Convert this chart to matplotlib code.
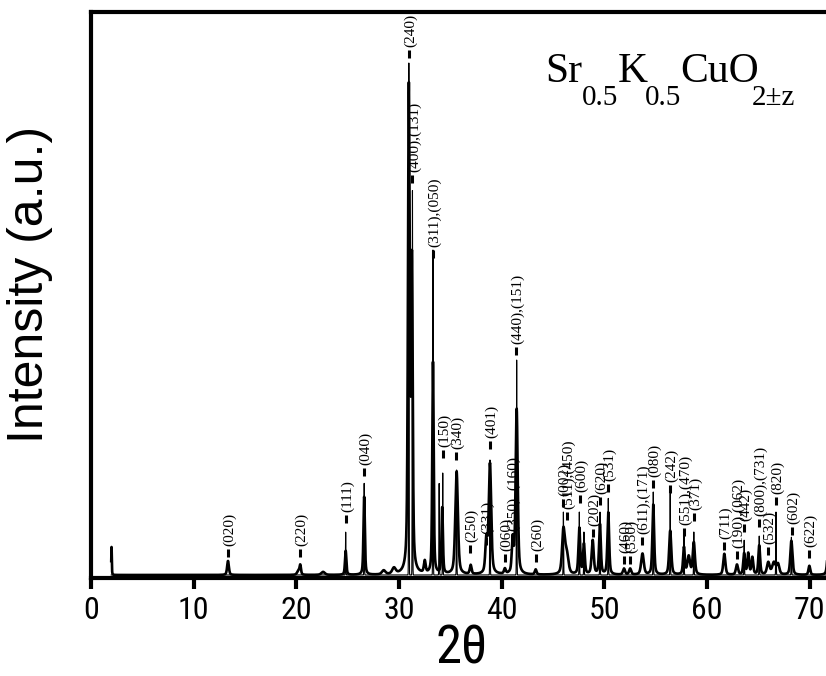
import numpy as np
import matplotlib
matplotlib.use("Agg")
import matplotlib.pyplot as plt
from matplotlib.transforms import IdentityTransform, offset_copy

# Smoothed scan: reflection position (2θ, deg), height (a.u.), half width (deg)
peak_pos = [2.0, 13.34, 20.2, 20.38, 22.6, 24.8, 26.6, 28.5, 29.5, 30.95, 31.25,
            32.5, 33.3, 34.2, 35.6, 36.97, 38.5, 38.85, 40.3, 41.06, 41.45, 43.3,
            46.0, 46.3, 47.55, 48.0, 48.85, 49.56, 50.37, 51.9, 52.5, 53.7,
            54.75, 56.4, 57.74, 58.2, 58.7, 61.67, 62.9, 63.6, 64.0, 64.4,
            65.07, 65.95, 66.5, 66.9, 68.2, 69.95, 71.8]
peak_height = [28, 14, 4, 9, 3, 24, 78, 4, 6, 480, 300,
               12, 212, 66, 103, 9, 32, 110, 5, 33, 165, 5,
               42, 22, 46, 30, 34, 50, 62, 6, 6, 21,
               70, 44, 27, 18, 32, 21, 10, 21, 21, 17,
               29, 12, 12, 10, 34, 9, 30]
peak_hw = [0.03, 0.1, 0.15, 0.08, 0.2, 0.08, 0.08, 0.2, 0.2, 0.1, 0.09,
           0.1, 0.08, 0.08, 0.15, 0.1, 0.12, 0.14, 0.1, 0.1, 0.12, 0.1,
           0.15, 0.2, 0.1, 0.1, 0.12, 0.1, 0.1, 0.12, 0.12, 0.15,
           0.1, 0.12, 0.1, 0.15, 0.12, 0.12, 0.12, 0.1, 0.1, 0.1,
           0.1, 0.15, 0.2, 0.15, 0.12, 0.1, 0.12]

# Raw scan: sharp reflections (2θ, height)
spike_pos = [24.8, 26.6, 30.95, 31.3, 33.3, 33.9, 34.25, 35.6, 38.85, 41.45,
             46.0, 47.55, 48.0, 49.56, 50.37, 54.75, 56.4, 57.74, 58.7,
             63.6, 65.07, 66.7, 68.2]
spike_height = [46, 95, 515, 390, 330, 95, 105, 108, 118, 218,
                66, 66, 46, 66, 80, 86, 85, 43, 46,
                38, 42, 66, 41]

baseline = 3.0

# Miller indices with the 2θ position and height of their marker
hkl_text = ["(020)", "(220)", "(111)", "(040)", "(240)", "(400),(131)",
            "(311),(050)", "(150)", "(340)", "(250)", "(331)", "(401)",
            "(060)", "(350), (160)", "(440),(151)", "(260)", "(002)",
            "(511),(450)", "(600)", "(202)", "(620)", "(531)", "(460)",
            "(550)", "(611),(171)", "(080)", "(242)", "(551),(470)", "(371)",
            "(711)", "(190),(062)", "(442)", "(800),(731)", "(532)", "(820)",
            "(602)", "(622)"]
hkl_pos = [13.34, 20.35, 24.83, 26.58, 30.96, 31.30, 33.30, 34.27, 35.54,
           36.90, 38.46, 38.85, 40.31, 40.99, 41.38, 43.33, 45.96, 46.35,
           47.61, 48.88, 49.56, 50.34, 51.90, 52.48, 53.65, 54.72, 56.38,
           57.74, 58.71, 61.64, 62.90, 63.58, 65.04, 65.92, 66.70, 68.26,
           69.91]
hkl_mark = [21, 21, 55, 102, 520, 395, 320, 120, 118, 25, 33, 129, 16, 36,
            223, 16, 71, 58, 75, 41, 73, 86, 14, 14, 33, 90, 85, 42, 57, 28,
            19, 46, 51, 23, 73, 43, 20]

tick_values = [0, 10, 20, 30, 40, 50, 60, 70]

sans_narrow = ["Liberation Sans Narrow", "Roboto Condensed", "Liberation Sans"]


def pseudo_voigt(x, c, h, w, eta=0.5):
    u = ((x - c) / w) ** 2
    return h * (eta / (1.0 + u) + (1.0 - eta) * np.exp(-np.log(2.0) * u))


two_theta = np.linspace(1.97, 72.5, 14000)
smooth = np.full_like(two_theta, baseline)
for c, h, w in zip(peak_pos, peak_height, peak_hw):
    smooth += pseudo_voigt(two_theta, c, h, w)

raw = np.full_like(two_theta, baseline)
for c, h in zip(spike_pos, spike_height):
    raw += pseudo_voigt(two_theta, c, h - baseline, 0.025, eta=0.0)

fig = plt.figure(figsize=(8.26, 6.76), dpi=100)
ax = fig.add_axes([91 / 826, 98 / 676, 739.4 / 826, 566 / 676])

ax.plot(two_theta, smooth, color="black", lw=1.9, solid_joinstyle="round")
ax.plot(two_theta, raw, color="black", lw=0.8)

ax.set_xlim(0, 72)
ax.set_ylim(0, 566)

for s in ["left", "bottom", "top", "right"]:
    ax.spines[s].set_linewidth(3.0)
ax.spines["right"].set_visible(False)

ax.set_yticks([])
ax.set_xticks(tick_values)
ax.set_xticklabels([str(v) for v in tick_values], fontfamily=sans_narrow,
                   fontsize=23)
ax.tick_params(axis="x", direction="out", length=8, width=3.0, pad=5)

# index markers: a short dash with the rotated label above it
label_tr = offset_copy(ax.transData, fig=fig, x=2, y=0, units="dots")
for t, x, y in zip(hkl_text, hkl_pos, hkl_mark):
    ax.plot([x, x], [y, y + 8], color="black", lw=2.2, solid_capstyle="butt",
            clip_on=False)
    ax.text(x, y + 11, t, rotation=90, ha="center", va="bottom",
            transform=label_tr, fontfamily="Liberation Serif", fontsize=11,
            clip_on=False, zorder=5)

fig.text(462 / 826, 2 / 676, "2θ", ha="center", va="bottom",
         fontfamily=sans_narrow, fontsize=38)
fig.text(30 / 826, (676 - 284) / 676, "Intensity (a.u.)", rotation=90,
         ha="center", va="center", fontfamily="Liberation Sans", fontsize=36)

# compound formula with lowered subscripts
fig.canvas.draw()
renderer = fig.canvas.get_renderer()
pieces = [("Sr", 30, 594, 0), ("0.5", 21, 571, -1), ("K", 30, 594, -3),
          ("0.5", 21, 571, -1), ("CuO", 30, 594, -7), ("2±z", 21, 571, 0)]
xpos = 545
for s, size, ybase, gap in pieces:
    t = fig.text(xpos, ybase, s, transform=IdentityTransform(),
                 fontfamily="Liberation Serif", fontsize=size,
                 ha="left", va="baseline")
    xpos = t.get_window_extent(renderer).x1 + gap

fig.savefig("out.png", dpi=100)
